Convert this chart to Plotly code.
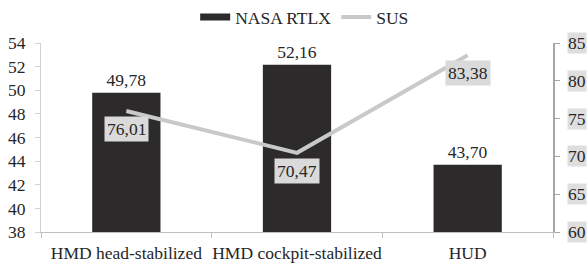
import plotly.graph_objects as go

categories = ["HMD head-stabilized", "HMD cockpit-stabilized", "HUD"]
nasa_rtlx = [49.78, 52.16, 43.70]
sus = [76.01, 70.47, 83.38]
left_ticks = [38, 40, 42, 44, 46, 48, 50, 52, 54]
right_ticks = [60, 65, 70, 75, 80, 85]

FONT = "Liberation Serif"
FS = 17.5
TXT = "#262626"
BAR = "#2d2a2b"
LINE = "#c9c9c9"

fig = go.Figure()
fig.add_trace(go.Bar(
    x=categories, y=nasa_rtlx, name="NASA RTLX", showlegend=False,
    marker=dict(color=BAR, line=dict(width=0)),
    width=0.4,
    texttemplate="%{y:.2f}", textposition="outside",
    textfont=dict(family=FONT, size=FS, color=TXT),
    cliponaxis=False,
))
# legend entry for the bars drawn as a wide dark block
fig.add_trace(go.Scatter(
    x=[None], y=[None], name="NASA RTLX", mode="lines",
    line=dict(color=BAR, width=7),
))
fig.add_trace(go.Scatter(
    x=categories, y=sus, name="SUS", yaxis="y2",
    mode="lines", line=dict(color=LINE, width=4),
))

for c, v in zip(categories, sus):
    fig.add_annotation(
        x=c, y=v, xref="x", yref="y2", text=f"{v:.2f}".replace(".", ","),
        showarrow=False, bgcolor="#dadada", yshift=-18,
        font=dict(family=FONT, size=FS, color=TXT), borderpad=2,
    )
for t in right_ticks:
    fig.add_annotation(
        x=1, y=t, xref="paper", yref="y2", text=str(t), xanchor="left",
        xshift=14, showarrow=False, bgcolor="#dedede", borderpad=0,
        font=dict(family=FONT, size=FS, color=TXT),
    )

fig.update_layout(
    width=587, height=267,
    margin=dict(l=41, r=34, t=43, b=35, autoexpand=False),
    paper_bgcolor="white", plot_bgcolor="white",
    separators=",.",
    showlegend=True,
    legend=dict(orientation="h", x=0.515, xanchor="center", y=1 - 17 / 267,
                yanchor="middle", yref="container",
                font=dict(family=FONT, size=FS, color=TXT), traceorder="normal",
                itemwidth=30, tracegroupgap=0),
    font=dict(family=FONT, size=FS, color=TXT),
    xaxis=dict(
        type="category", range=[-0.5, 2.5], tickson="boundaries",
        ticks="outside", ticklen=5, tickcolor="#bfbfbf", tickangle=0,
        ticklabelstandoff=5,
        showline=True, linecolor="#bfbfbf", linewidth=1,
        showgrid=False, automargin=False,
        tickfont=dict(family=FONT, size=FS, color=TXT),
    ),
    yaxis=dict(
        range=[38, 54], tickvals=left_ticks, ticks="outside", ticklen=5,
        ticklabelstandoff=6,
        tickcolor="#d0d0d0", showline=True, linecolor="#d0d0d0", linewidth=1,
        showgrid=False, zeroline=False, automargin=False,
        tickfont=dict(family=FONT, size=FS, color=TXT),
    ),
    yaxis2=dict(
        range=[60, 85], tickvals=right_ticks, overlaying="y", side="right",
        ticks="outside", ticklen=5, tickcolor="#a6a6a6",
        showline=True, linecolor="#a6a6a6", linewidth=2,
        showgrid=False, zeroline=False, showticklabels=False, automargin=False,
    ),
)

fig.write_html("out.html", config={"displayModeBar": False},
               post_script="document.body.style.margin='0';")
